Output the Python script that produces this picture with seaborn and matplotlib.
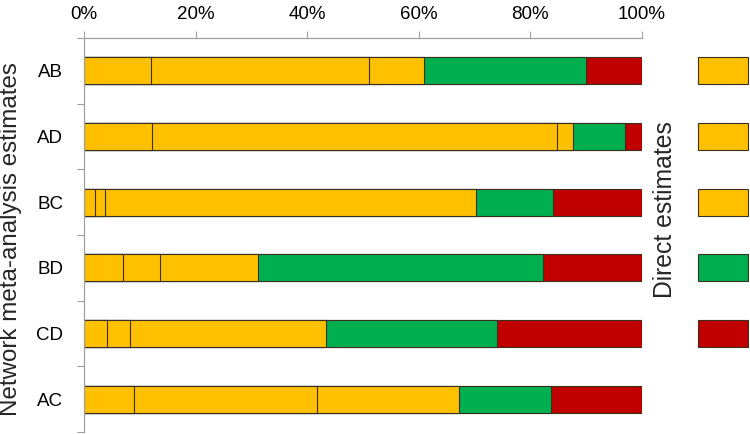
import matplotlib
matplotlib.use("Agg")
import matplotlib.pyplot as plt
import matplotlib.ticker as mticker
import numpy as np
import pandas as pd
import seaborn as sns

categories = ["AB", "AD", "BC", "BD", "CD", "AC"]
seg1 = [12.0, 12.2, 1.9, 6.9, 4.1, 8.9]
seg2 = [39.0, 72.5, 1.8, 6.8, 4.1, 32.8]
seg3 = [10.0, 3.0, 66.5, 17.5, 35.1, 25.5]
seg4 = [29.0, 9.2, 13.9, 51.1, 30.8, 16.5]
seg5 = [10.0, 3.1, 15.9, 17.7, 25.9, 16.3]
seg_colors = ["#FFC000", "#FFC000", "#FFC000", "#00B050", "#C00000"]
direct_colors = ["#FFC000", "#FFC000", "#FFC000", "#00B050", "#C00000"]
xticks = [0, 20, 40, 60, 80, 100]

sns.set_theme(style="white")
plt.rcParams["font.family"] = ["Liberation Sans", "DejaVu Sans"]

fig = plt.figure(figsize=(7.5, 4.34), dpi=100)
ax = fig.add_axes([84 / 750, 1 - 432 / 434, (642 - 84) / 750, (432 - 38) / 434])

segs = [seg1, seg2, seg3, seg4, seg5]
df = pd.DataFrame({"cat": categories})
cum = np.cumsum(np.array(segs), axis=0)
cum = cum / cum[-1] * 100
for k in range(len(segs) - 1, -1, -1):
    df["v"] = cum[k]
    sns.barplot(data=df, x="v", y="cat", orient="h", color=seg_colors[k],
                saturation=1, width=0.41, edgecolor="#3a3020", linewidth=0.8,
                ax=ax)

ax.set_xlim(0, 100)
ax.set_ylim(len(categories) - 0.5, -0.5)
ax.xaxis.tick_top()
ax.set_xticks(xticks)
ax.xaxis.set_major_formatter(mticker.FuncFormatter(lambda v, p: f"{v:.0f}%"))
ax.tick_params(axis="x", top=True, length=5, width=0.8, color="#a0a0a0",
               labelsize=13.5, pad=6, labelcolor="black")
ax.set_yticks(range(len(categories)))
ax.set_yticklabels(categories)
ax.set_yticks(np.arange(-0.5, len(categories), 1), minor=True)
ax.tick_params(axis="y", which="major", left=False, labelsize=13.5, pad=9,
               labelcolor="black")
ax.tick_params(axis="y", which="minor", left=True, length=5, width=0.8,
               color="#a0a0a0")
for s in ["right", "bottom"]:
    ax.spines[s].set_visible(False)
for s in ["top", "left"]:
    ax.spines[s].set_color("#a0a0a0")
    ax.spines[s].set_linewidth(0.9)
ax.set_xlabel("")
ax.set_ylabel("")

fig.text(11 / 750, 1 - 239 / 434, "Network meta-analysis estimates",
         rotation=90, ha="center", va="center", fontsize=17.4)
fig.text(665 / 750, 1 - 210 / 434, "Direct estimates",
         rotation=90, ha="center", va="center", fontsize=17.8)

ax2 = fig.add_axes([697 / 750, 1 - 432 / 434, 52 / 750, (432 - 38) / 434])
ddf = pd.DataFrame({"cat": categories[:len(direct_colors)],
                    "v": [1] * len(direct_colors)})
sns.barplot(data=ddf, x="v", y="cat", hue="cat", palette=direct_colors,
            orient="h", saturation=1, width=0.41, edgecolor="#3a3020",
            linewidth=0.8, legend=False, ax=ax2)
ax2.set_xlim(-0.02, 1.02)
ax2.set_ylim(len(categories) - 0.5, -0.5)
ax2.axis("off")

fig.savefig("out.png", dpi=100)
